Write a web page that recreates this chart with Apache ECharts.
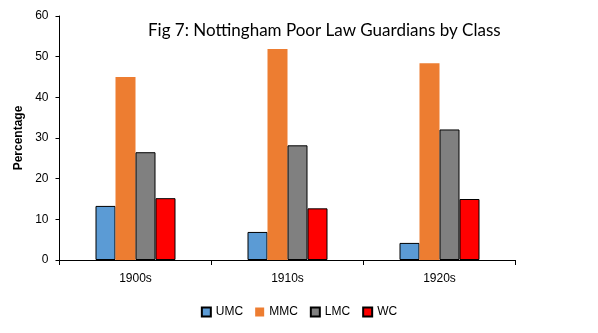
<!DOCTYPE html>
<html><head><meta charset="utf-8">
<script src="https://cdn.jsdelivr.net/npm/echarts@6/dist/echarts.min.js"></script>
<style>html,body{margin:0;padding:0;background:#fff}#c{width:598px;height:333px}</style>
</head><body><div id="c"></div>
<script>
const categories = ['1900s', '1910s', '1920s'];
const umc = [13.3, 6.9, 4.2];
const mmc = [45.0, 51.9, 48.4];
const lmc = [26.5, 28.2, 32.1];
const wc = [15.2, 12.7, 15.0];
const yTicks = [0, 10, 20, 30, 40, 50, 60];

const chart = echarts.init(document.getElementById('c'), null, {renderer: 'canvas'});
const mk = (name, data, color, border) => ({
  name, type: 'bar', data, barGap: '0%', barWidth: 20,
  itemStyle: {color, borderColor: '#000', borderWidth: border ? 1 : 0},
  animation: false
});
chart.setOption({
  animation: false,
  title: {text: 'Fig 7: Nottingham Poor Law Guardians by Class', left: 148, top: 22, padding: 0,
    textStyle: {fontFamily: 'Lato', fontWeight: 'normal', fontSize: 17, color: '#000'}},
  grid: {left: 59.5, right: 82.5, top: 16, bottom: 73},
  legend: {bottom: 10, left: 'center', itemWidth: 9, itemHeight: 9, itemGap: 12,
    textStyle: {fontFamily: 'Liberation Sans', fontSize: 12, color: '#000'},
    icon: 'rect',
    data: ['UMC', 'MMC', 'LMC', 'WC']},
  xAxis: {type: 'category', data: categories,
    axisLine: {lineStyle: {color: '#000', width: 1}},
    axisTick: {show: true, alignWithLabel: false, length: 5, lineStyle: {color: '#000'}},
    axisLabel: {fontFamily: 'Liberation Sans', fontSize: 12, color: '#000', margin: 13}},
  yAxis: {type: 'value', min: yTicks[0], max: yTicks[yTicks.length - 1], interval: 10,
    name: 'Percentage', nameLocation: 'middle', nameGap: 34, nameRotate: 90,
    nameTextStyle: {fontFamily: 'Liberation Sans', fontSize: 12, fontWeight: 'bold', color: '#000'},
    axisLine: {show: true, lineStyle: {color: '#000'}},
    axisTick: {show: true, length: 4, lineStyle: {color: '#000'}},
    splitLine: {show: false},
    axisLabel: {fontFamily: 'Liberation Sans', fontSize: 12, color: '#000', margin: 11}},
  series: [mk('UMC', umc, '#5B9BD5', true), mk('MMC', mmc, '#ED7D31', false),
           mk('LMC', lmc, '#808080', true), mk('WC', wc, '#FF0000', true)]
});
</script></body></html>
